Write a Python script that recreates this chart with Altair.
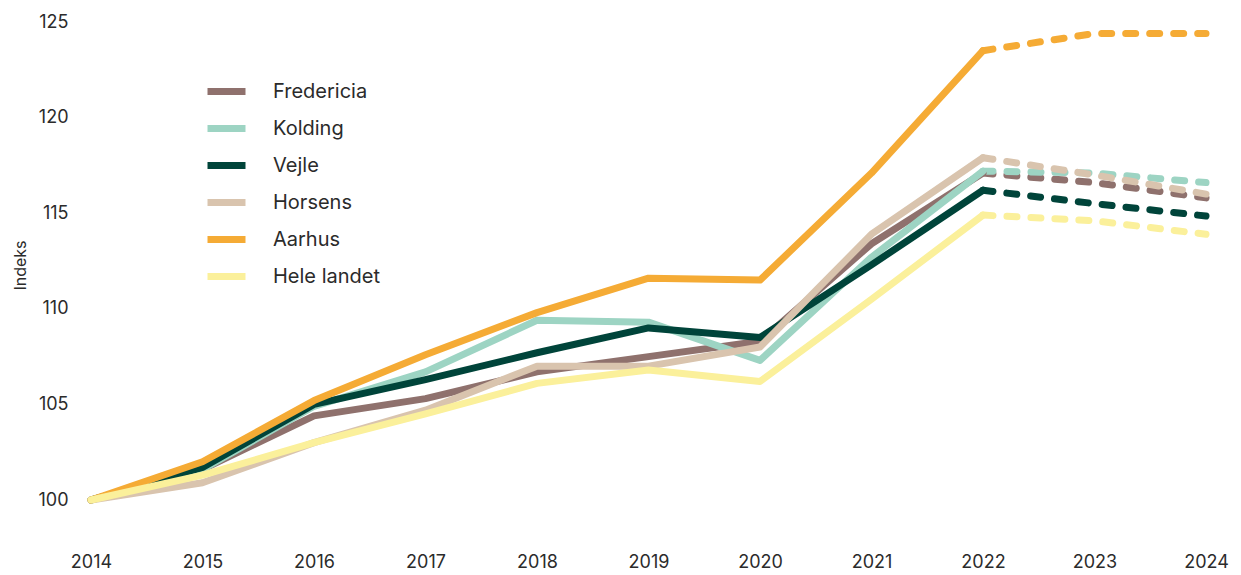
import altair as alt
import pandas as pd

years = [2014, 2015, 2016, 2017, 2018, 2019, 2020, 2021, 2022, 2023, 2024]
series_names = ["Fredericia", "Kolding", "Vejle", "Horsens", "Aarhus", "Hele landet"]
colors = ["#8f716d", "#9dd4c3", "#00443a", "#d9c4ae", "#f5ab35", "#fbf09b"]

fredericia = [100, 101.6, 104.4, 105.3, 106.7, 107.5, 108.3, 113.4, 117.1, 116.6, 115.8]
kolding = [100, 101.6, 104.9, 106.7, 109.4, 109.3, 107.3, 112.7, 117.2, 117.1, 116.6]
vejle = [100, 101.7, 105.0, 106.3, 107.7, 109.0, 108.5, 112.3, 116.2, 115.5, 114.85]
horsens = [100, 100.9, 103.0, 104.7, 107.0, 107.0, 108.0, 113.9, 117.9, 117.0, 116.0]
aarhus = [100, 102.0, 105.2, 107.6, 109.8, 111.6, 111.5, 117.1, 123.5, 124.4, 124.4]
hele_landet = [100, 101.3, 103.0, 104.5, 106.1, 106.8, 106.2, 110.5, 114.9, 114.6, 113.9]

all_series = [fredericia, kolding, vejle, horsens, aarhus, hele_landet]
last_actual = 2022

rows = []
for name, vals in zip(series_names, all_series):
    for yr, v in zip(years, vals):
        if yr <= last_actual:
            rows.append({"Kommune": name, "År": yr, "Indeks": v, "part": "solid"})
        if yr >= last_actual:
            rows.append({"Kommune": name, "År": yr, "Indeks": v, "part": "dashed"})
df = pd.DataFrame(rows)

FONT = "Inter"
TXT = "#2b2b2b"

x_enc = alt.X(
    "År:Q",
    scale=alt.Scale(domain=[2014, 2024], nice=False, zero=False),
    axis=alt.Axis(values=years, format="d", title=None, grid=False, domain=False,
                  ticks=False, labelPadding=53, labelFontSize=18, labelFont=FONT,
                  labelColor=TXT, labelFlush=False),
)
y_enc = alt.Y(
    "Indeks:Q",
    scale=alt.Scale(domain=[100, 125], nice=False, zero=False),
    axis=alt.Axis(values=[100, 105, 110, 115, 120, 125], title="Indeks", grid=False,
                  domain=False, ticks=False, labelPadding=23, labelFontSize=18,
                  labelFont=FONT, labelColor=TXT, titleFont=FONT, titleFontSize=16,
                  titleFontWeight="normal", titleColor=TXT, titleX=-71, titleY=243,
                  titleAngle=-90, titleBaseline="middle", titleAlign="center"),
)
color_scale = alt.Scale(domain=series_names, range=colors)
legend = alt.Legend(
    title=None, orient="none", legendX=113, legendY=47,
    symbolType="stroke", symbolSize=1444, symbolStrokeWidth=7,
    rowPadding=-3, labelFontSize=20, labelFont=FONT, labelColor=TXT,
    labelOffset=24, symbolOpacity=1, symbolDash=[1, 0],
)

solid = alt.Chart(df).transform_filter(alt.datum.part == "solid").mark_line(
    strokeWidth=7, strokeCap="round", strokeJoin="round"
).encode(
    x=x_enc,
    y=y_enc,
    color=alt.Color("Kommune:N", scale=color_scale, sort=series_names, legend=legend),
    order=alt.Order("År:Q"),
)

dashed = alt.Chart(df).transform_filter(alt.datum.part == "dashed").mark_line(
    strokeWidth=7, strokeCap="round", strokeJoin="round", strokeDash=[10, 14]
).encode(
    x=x_enc,
    y=y_enc,
    color=alt.Color("Kommune:N", scale=color_scale, sort=series_names, legend=legend),
    order=alt.Order("År:Q"),
)

chart = alt.layer(dashed, solid).properties(
    width=1115,
    height=478,
    padding={"left": 83, "top": 14, "right": 24, "bottom": 74},
    autosize="none",
).configure_view(stroke=None)

chart.save("out.html", embed_options={"renderer": "svg", "actions": False})
